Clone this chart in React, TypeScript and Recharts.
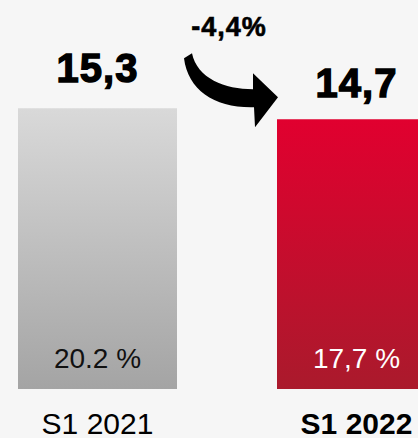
import { Bar, BarChart, Cell, LabelList, XAxis, YAxis } from "recharts";

const categories = ["S1 2021", "S1 2022"];
const values = [15.3, 14.7];
const valueLabels = ["15,3", "14,7"];
const shareLabels = ["20.2 %", "17,7 %"];
const changeLabel = "-4,4%";

const data = categories.map((name, i) => ({
  name,
  value: values[i],
  top: valueLabels[i],
  share: shareLabels[i],
}));

const FONT = "'Liberation Sans', Arial, sans-serif";

function TopLabel(props: any) {
  const { x, y, width, index } = props;
  const lift = index === 0 ? 26 : 22;
  return (
    <text
      x={x + width / 2}
      y={y - lift}
      textAnchor="middle"
      fontFamily={FONT}
      fontWeight={700}
      fontSize={40}
      letterSpacing={1}
      fill="#000"
      stroke="#000"
      strokeWidth={1.4}
    >
      {valueLabels[index]}
    </text>
  );
}

function ShareLabel(props: any) {
  const { x, y, width, height, index } = props;
  return (
    <text
      x={x + width / 2}
      y={y + height - 21}
      textAnchor="middle"
      fontFamily={FONT}
      fontSize={28}
      fill={index === 0 ? "#111" : "#fff"}
    >
      {shareLabels[index]}
    </text>
  );
}

// curved arrow + change label, hung off the second bar
function ChangeArrow(props: any) {
  const { x, y, index } = props;
  if (index !== 1) return null;
  const p = (dx: number, dy: number) => `${x + dx},${y + dy}`;
  const d = [
    `M${p(-93, -61)}`,
    `L${p(-85, -66)}`,
    `C${p(-80, -41)} ${p(-52, -30)} ${p(-24, -30)}`,
    `L${p(-24, -46)}`,
    `L${p(1, -22)}`,
    `L${p(-22, 8)}`,
    `L${p(-23, -12)}`,
    `C${p(-62, -11)} ${p(-89, -29)} ${p(-93, -61)}`,
    "Z",
  ].join(" ");
  return (
    <g>
      <path d={d} fill="#000" />
      <text
        x={x - 48}
        y={y - 83}
        textAnchor="middle"
        fontFamily={FONT}
        fontWeight={700}
        fontSize={27}
        letterSpacing={1}
        fill="#000"
        stroke="#000"
        strokeWidth={0.6}
      >
        {changeLabel}
      </text>
    </g>
  );
}

function Tick(props: any) {
  const { x, y, payload, index } = props;
  return (
    <text
      x={x}
      y={y + 44.5}
      textAnchor="middle"
      fontFamily={FONT}
      fontSize={30}
      fontWeight={index === 1 ? 700 : 400}
      fill="#000"
    >
      {payload.value}
    </text>
  );
}

export default function App() {
  return (
    <div
      style={{
        position: "fixed",
        left: 0,
        top: 0,
        width: 418,
        height: 438,
        overflow: "hidden",
        background: "#f6f6f6",
      }}
    >
      <div style={{ position: "absolute", left: -32, top: 0 }}>
        <BarChart
          width={518}
          height={438}
          data={data}
          margin={{ top: 22, right: 0, bottom: 0, left: 0 }}
        >
          <defs>
            <linearGradient id="gGray" x1="0" y1="0" x2="0" y2="1">
              <stop offset="0%" stopColor="#d9d9d9" />
              <stop offset="100%" stopColor="#a4a4a4" />
            </linearGradient>
            <linearGradient id="gRed" x1="0" y1="0" x2="0" y2="1">
              <stop offset="0%" stopColor="#e1002f" />
              <stop offset="100%" stopColor="#aa1a2c" />
            </linearGradient>
          </defs>
          <XAxis
            dataKey="name"
            axisLine={false}
            tickLine={false}
            tickSize={0}
            tickMargin={0}
            height={49}
            tick={<Tick />}
            interval={0}
          />
          <YAxis hide domain={[0, 20]} />
          <Bar dataKey="value" barSize={159} isAnimationActive={false}>
            <Cell fill="url(#gGray)" />
            <Cell fill="url(#gRed)" />
            <LabelList dataKey="top" content={<TopLabel />} />
            <LabelList dataKey="share" content={<ShareLabel />} />
            <LabelList dataKey="value" content={<ChangeArrow />} />
          </Bar>
        </BarChart>
      </div>
    </div>
  );
}
